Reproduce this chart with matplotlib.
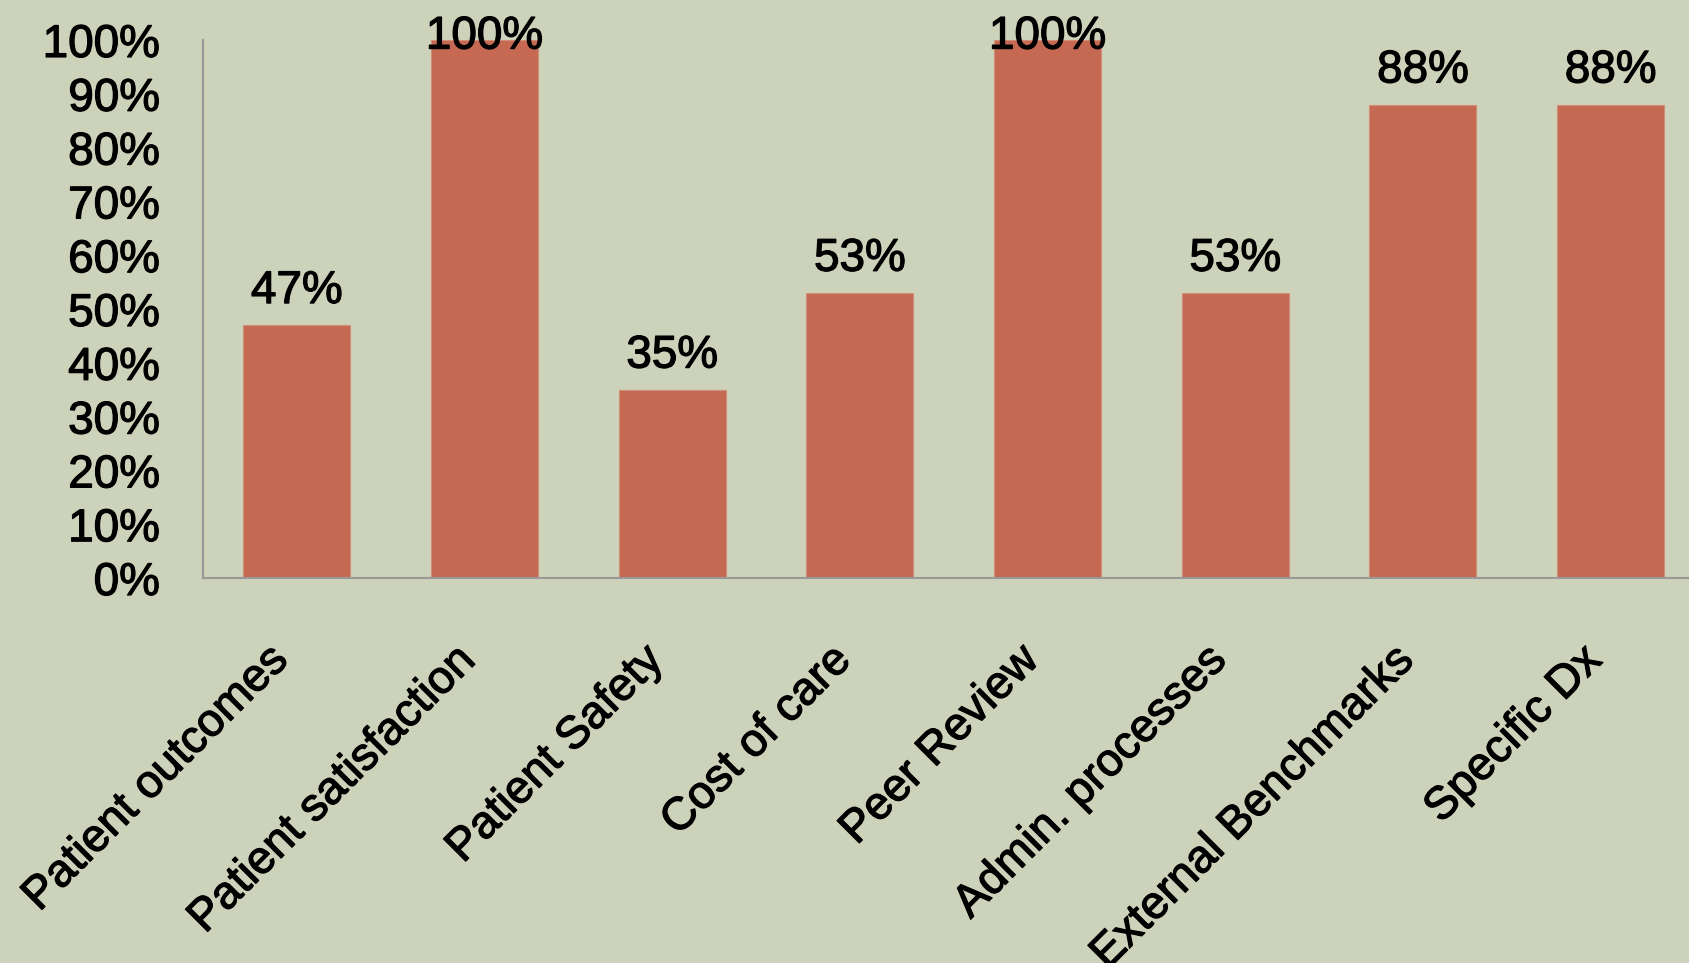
import numpy as np
import matplotlib.pyplot as plt
import matplotlib.patheffects as pe
from matplotlib.ticker import PercentFormatter

## Survey results per quality area
categories = ['Patient outcomes', 'Patient satisfaction', 'Patient Safety',
              'Cost of care', 'Peer Review', 'Admin. processes',
              'External Benchmarks', 'Specific Dx']
values = [47, 100, 35, 53, 100, 53, 88, 88]
yticks = [0, 10, 20, 30, 40, 50, 60, 70, 80, 90, 100]

bg = '#CDD2BA'
bar_color = '#C56952'

plt.rcParams['font.family'] = ['Liberation Sans', 'DejaVu Sans']
# slightly heavier text strokes
heavy = [pe.withStroke(linewidth=0.9, foreground='black')]

fig = plt.figure(figsize=(16.9, 9.63), dpi=100, facecolor=bg)
ax = fig.add_axes([0.1201, 0.3998, 0.8885, 0.5587])
ax.set_facecolor(bg)

x = np.arange(len(categories))
ax.bar(x, values, width=0.57, color=bar_color, edgecolor='#D38E77', linewidth=0.8)

## Axis config
ax.set_xlim(-0.5, len(categories) - 0.5)
ax.set_ylim(0, 100)
ax.set_yticks(yticks)
ax.yaxis.set_major_formatter(PercentFormatter(decimals=0))
ax.set_xticks(x)
ax.set_xticklabels(categories, rotation=45, ha='right', va='top')
ax.tick_params(axis='y', length=0, pad=31, labelsize=33)
ax.tick_params(axis='x', length=0, pad=43, labelsize=33)
for lbl in ax.get_xticklabels() + ax.get_yticklabels():
    lbl.set_path_effects(heavy)

for side in ['top', 'right']:
    ax.spines[side].set_visible(False)
for side in ['left', 'bottom']:
    ax.spines[side].set_color('#999999')
    ax.spines[side].set_linewidth(1.5)

## Value labels, kept inside the plot area at the top
for xi, v in zip(x, values):
    ax.text(xi, min(v + 4.1, 98.4), '%d%%' % v, ha='center', va='baseline',
            fontsize=33, color='black', clip_on=False, path_effects=heavy)

fig.savefig('out.png', dpi=100, facecolor=bg)
